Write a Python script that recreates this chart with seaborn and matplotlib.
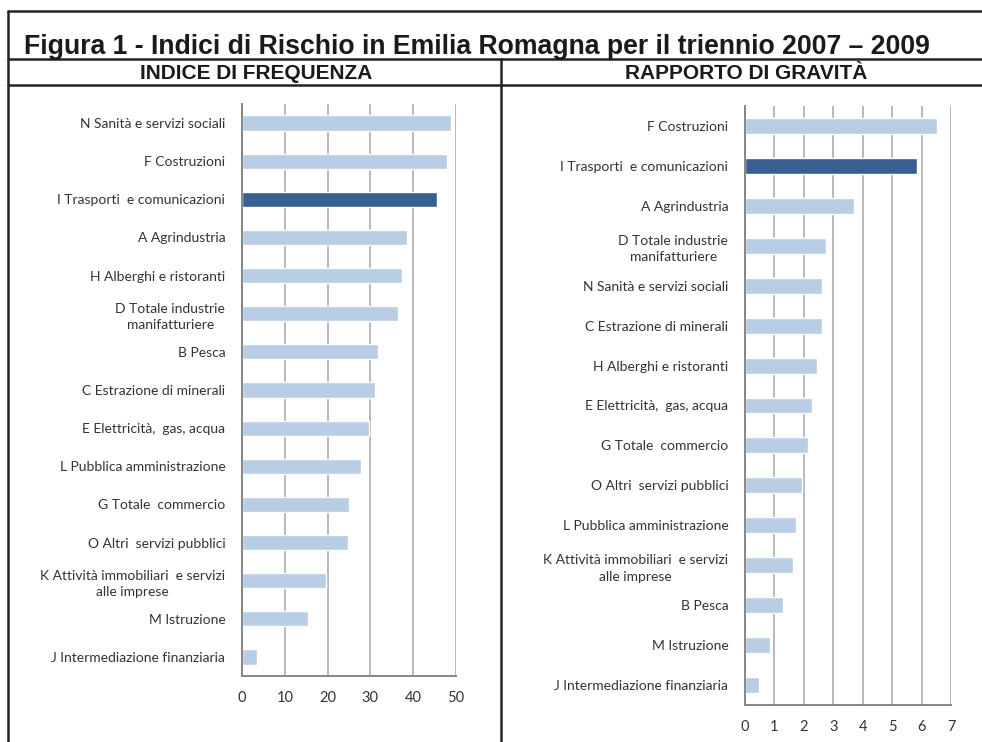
import matplotlib
matplotlib.use("Agg")
import matplotlib.pyplot as plt
import seaborn as sns
import pandas as pd
from matplotlib.lines import Line2D

# ---- data ----
freq_categories = [
    "N Sanità e servizi sociali",
    "F Costruzioni",
    "I Trasporti  e comunicazioni",
    "A Agrindustria",
    "H Alberghi e ristoranti",
    "D Totale industrie\nmanifatturiere",
    "B Pesca",
    "C Estrazione di minerali",
    "E Elettricità,  gas, acqua",
    "L Pubblica amministrazione",
    "G Totale  commercio",
    "O Altri  servizi pubblici",
    "K Attività immobiliari  e servizi\nalle imprese",
    "M Istruzione",
    "J Intermediazione finanziaria",
]
freq_values = [48.8, 47.8, 45.6, 38.6, 37.4, 36.4, 31.8, 31.1, 29.7, 27.8, 24.9, 24.7, 19.6, 15.5, 3.4]

grav_categories = [
    "F Costruzioni",
    "I Trasporti  e comunicazioni",
    "A Agrindustria",
    "D Totale industrie\nmanifatturiere",
    "N Sanità e servizi sociali",
    "C Estrazione di minerali",
    "H Alberghi e ristoranti",
    "E Elettricità,  gas, acqua",
    "G Totale  commercio",
    "O Altri  servizi pubblici",
    "L Pubblica amministrazione",
    "K Attività immobiliari  e servizi\nalle imprese",
    "B Pesca",
    "M Istruzione",
    "J Intermediazione finanziaria",
]
grav_values = [6.52, 5.85, 3.71, 2.76, 2.61, 2.60, 2.46, 2.28, 2.13, 1.94, 1.72, 1.64, 1.29, 0.85, 0.48]

freq_ticks = [0, 10, 20, 30, 40, 50]
grav_ticks = [0, 1, 2, 3, 4, 5, 6, 7]

title_text = "Figura 1 - Indici di Rischio in Emilia Romagna per il triennio 2007 – 2009"
header_left = "INDICE DI FREQUENZA"
header_right = "RAPPORTO DI GRAVITÀ"

highlight = "I Trasporti  e comunicazioni"
LIGHT = "#b9cde5"
DARK = "#376092"

W, H = 982, 742
sns.set_theme(style="white")
plt.rcParams["font.family"] = ["Lato", "DejaVu Sans"]

fig = plt.figure(figsize=(W / 100, H / 100), dpi=100)
fig.patch.set_facecolor("white")


def px_axes(x0, x1, ytop, ybot):
    return fig.add_axes([x0 / W, 1 - ybot / H, (x1 - x0) / W, (ybot - ytop) / H])


def draw(ax, cats, vals, ticks):
    df = pd.DataFrame({"cat": cats, "val": vals})
    pal = {c: (DARK if c == highlight else LIGHT) for c in cats}
    sns.barplot(data=df, x="val", y="cat", hue="cat", palette=pal, legend=False,
                width=0.4, ax=ax, order=cats, saturation=1)
    ax.set_xlim(ticks[0], ticks[-1])
    ax.set_ylim(len(cats) - 0.5, -0.5)
    ax.set_xticks(ticks)
    ax.set_xticklabels([str(t) for t in ticks], fontsize=10.5, color="#333333")
    ax.set_xlabel("")
    ax.set_ylabel("")
    ax.xaxis.grid(True, color="#a6a6a6", lw=1.1)
    ax.yaxis.grid(False)
    ax.set_axisbelow(True)
    for s in ["top", "right"]:
        ax.spines[s].set_visible(False)
    for s in ["left", "bottom"]:
        ax.spines[s].set_color("#868686")
        ax.spines[s].set_linewidth(1.4)
    ax.set_yticks(range(len(cats)))
    ax.set_yticklabels(cats, fontsize=10, color="#333333", multialignment="center", linespacing=1.45)
    ax.tick_params(axis="y", which="major", length=0, pad=12)
    ax.set_yticks([i - 0.5 for i in range(len(cats) + 1)], minor=True)
    ax.tick_params(axis="y", which="minor", length=5, width=1, color="#868686", direction="out")
    ax.tick_params(axis="x", which="major", length=5, width=1, color="#868686", direction="out", pad=6)
    ax.set_facecolor("white")


ax1 = px_axes(242, 456, 104, 676)
draw(ax1, freq_categories, freq_values, freq_ticks)
ax2 = px_axes(745, 951, 106, 705)
draw(ax2, grav_categories, grav_values, grav_ticks)

# frame lines
lw = 1.8
def hline(y, x0=8, x1=982):
    fig.add_artist(Line2D([x0 / W, x1 / W], [1 - y / H, 1 - y / H], color="#222222", lw=lw, transform=fig.transFigure))
def vline(x, y0, y1=742):
    fig.add_artist(Line2D([x / W, x / W], [1 - y0 / H, 1 - y1 / H], color="#222222", lw=lw, transform=fig.transFigure))

hline(11)
hline(59)
hline(85)
vline(8, 11)
vline(501, 59)

fig.text(24 / W, 1 - 54 / H, title_text, fontsize=19.2, fontweight="bold",
         family=["Liberation Sans", "DejaVu Sans"], color="#1a1a1a", va="baseline", ha="left")
fig.text(256 / W, 1 - 79 / H, header_left, fontsize=15, fontweight="bold",
         family=["Liberation Sans", "DejaVu Sans"], color="#1a1a1a", va="baseline", ha="center")
fig.text(746 / W, 1 - 79 / H, header_right, fontsize=15, fontweight="bold",
         family=["Liberation Sans", "DejaVu Sans"], color="#1a1a1a", va="baseline", ha="center")

fig.savefig("out.png", dpi=100, facecolor="white")
